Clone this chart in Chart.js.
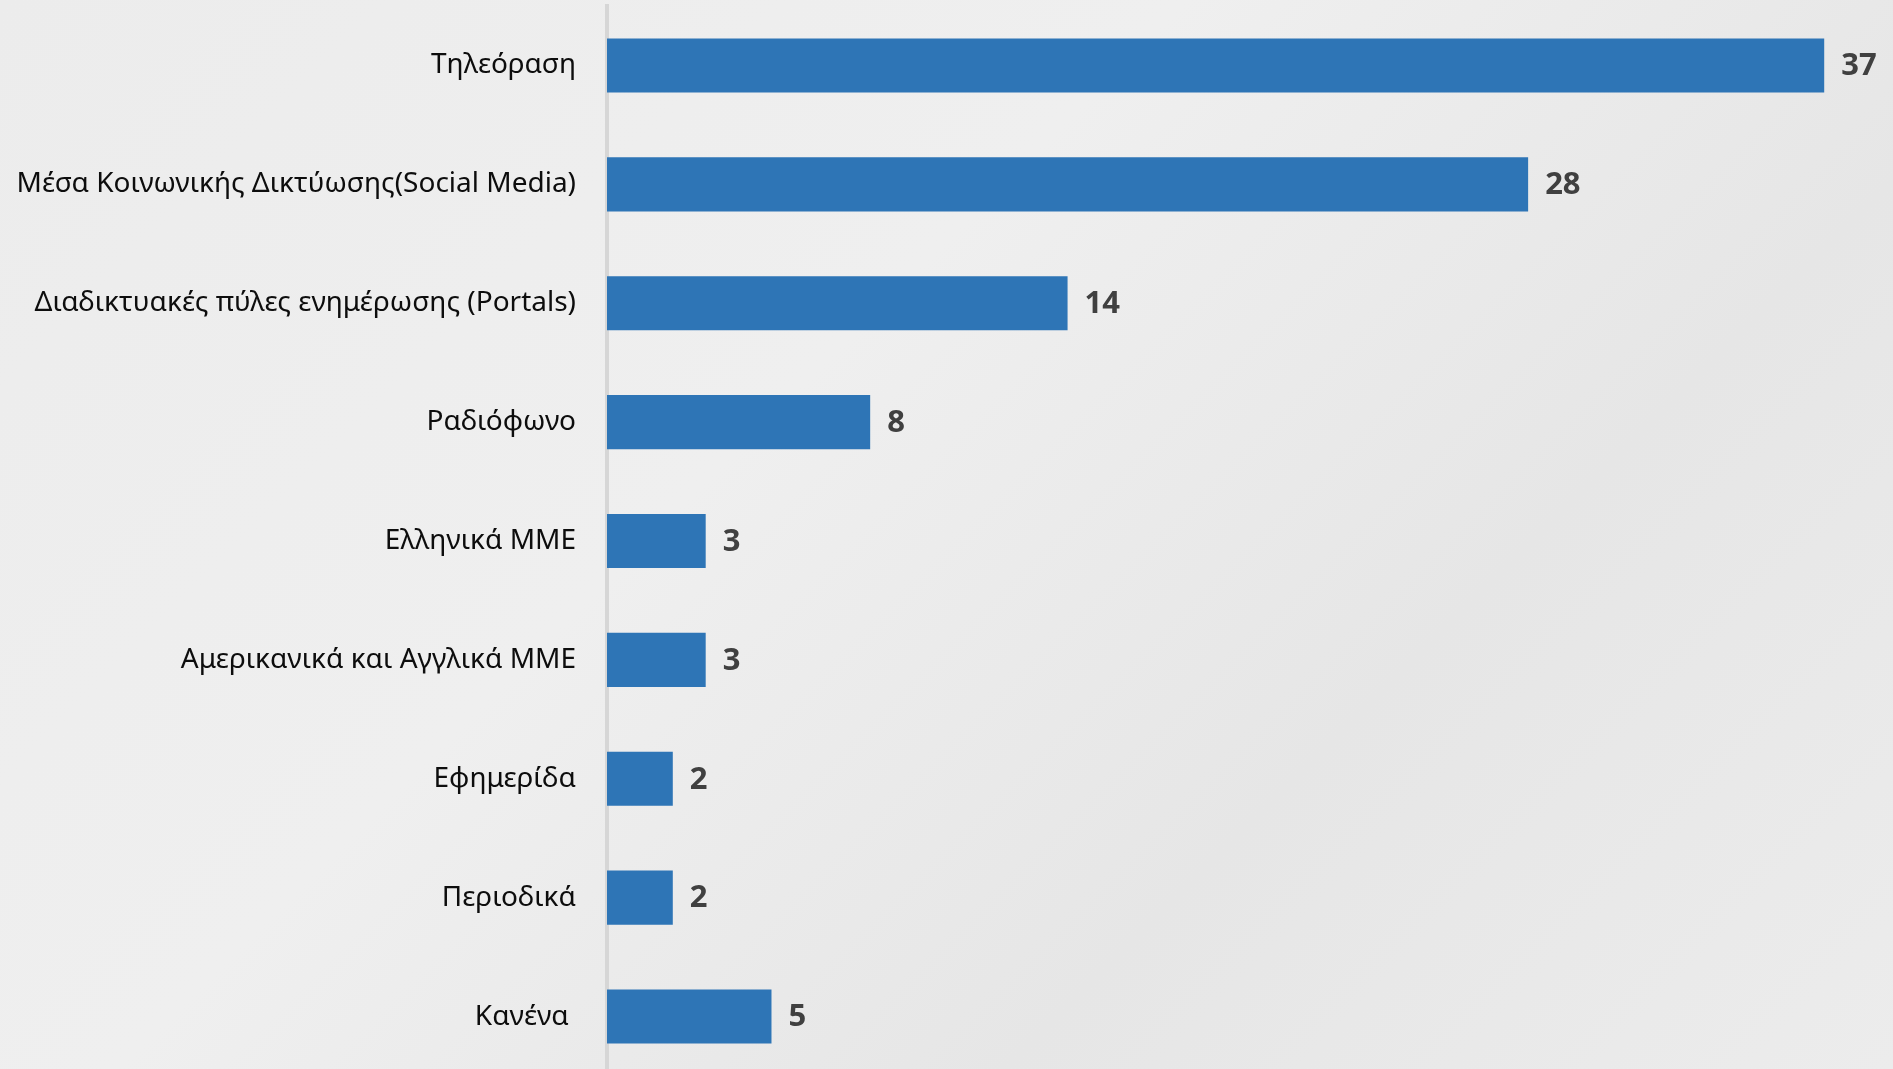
<!DOCTYPE html>
<html>
<head>
<meta charset="utf-8">
<script src="https://cdn.jsdelivr.net/npm/chart.js@4.4.0/dist/chart.umd.min.js"></script>
<style>
  html, body { margin: 0; padding: 0; overflow: hidden; }
  body {
    width: 1893px; height: 1069px;
    background: linear-gradient(135deg, #ececec 0%, #efefef 40%, #e6e6e6 70%, #ececec 100%);
  }
  #chart { position: absolute; left: 0; top: 0; }
</style>
</head>
<body>
<canvas id="chart" width="1893" height="1076"></canvas>
<script>
// Πηγές ενημέρωσης
const categories = [
  'Τηλεόραση',
  'Μέσα Κοινωνικής Δικτύωσης(Social Media)',
  'Διαδικτυακές πύλες ενημέρωσης (Portals)',
  'Ραδιόφωνο',
  'Ελληνικά ΜΜΕ',
  'Αμερικανικά και Αγγλικά ΜΜΕ',
  'Εφημερίδα',
  'Περιοδικά',
  'Κανένα '
];
const values = [37, 28, 14, 8, 3, 3, 2, 2, 5];

const barColor = '#2e75b6';

// nombres de categoría a la izquierda del eje
const categoryLabels = {
  id: 'categoryLabels',
  afterDraw(chart) {
    const ctx = chart.ctx;
    const y = chart.scales.y;
    ctx.save();
    ctx.font = '28px "Noto Sans"';
    ctx.fillStyle = '#0d0d0d';
    ctx.textAlign = 'right';
    ctx.textBaseline = 'middle';
    categories.forEach((label, i) => {
      ctx.fillText(label, y.right - 31, y.getPixelForTick(i));
    });
    ctx.restore();
  }
};

// etiquetas de valor al final de cada barra
const valueLabels = {
  id: 'valueLabels',
  afterDatasetsDraw(chart) {
    const ctx = chart.ctx;
    const meta = chart.getDatasetMeta(0);
    ctx.save();
    ctx.font = 'bold 31px "Noto Sans"';
    ctx.fillStyle = '#404040';
    ctx.textAlign = 'left';
    ctx.textBaseline = 'middle';
    meta.data.forEach((bar, i) => {
      ctx.fillText(String(values[i]), bar.x + 17, bar.y + 1);
    });
    ctx.restore();
  }
};

new Chart(document.getElementById('chart'), {
  type: 'bar',
  data: {
    labels: categories,
    datasets: [{
      data: values,
      backgroundColor: barColor,
      borderWidth: 0,
      barPercentage: 0.455,
      categoryPercentage: 1
    }]
  },
  options: {
    indexAxis: 'y',
    responsive: false,
    animation: false,
    layout: { padding: { top: 6, right: 3, bottom: 0, left: 0 } },
    plugins: {
      legend: { display: false },
      tooltip: { enabled: false }
    },
    scales: {
      x: {
        min: 0,
        max: 39,
        display: false
      },
      y: {
        grid: { display: false, drawTicks: false },
        border: { display: true, color: '#d6d6d6', width: 4 },
        ticks: { display: false, padding: 0 },
        afterFit(scale) { scale.width = 607; }
      }
    }
  },
  plugins: [valueLabels, categoryLabels]
});
</script>
</body>
</html>
